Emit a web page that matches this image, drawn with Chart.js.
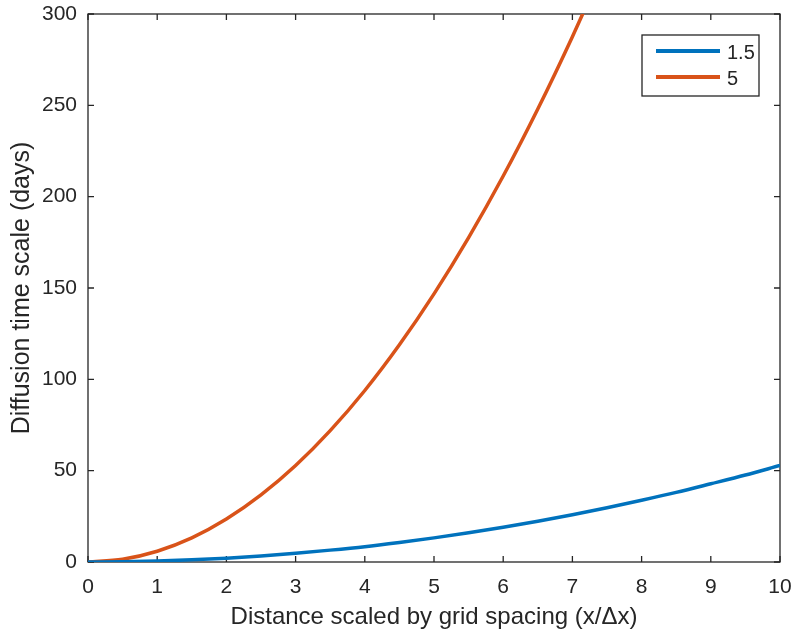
<!DOCTYPE html>
<html>
<head>
<meta charset="utf-8">
<script src="https://cdn.jsdelivr.net/npm/chart.js@4/dist/chart.umd.min.js"></script>
<style>
body { margin: 0; background: #fff; }
#wrap { width: 793px; height: 632px; }
</style>
</head>
<body>
<div id="wrap"><canvas id="diffChart"></canvas></div>
<script>
// Distance scaled by grid spacing (x/dx)
const distance = [0, 0.5, 1, 1.5, 2, 2.5, 3, 3.5, 4, 4.5, 5, 5.5, 6, 6.5, 7, 7.5, 8, 8.5, 9, 9.5, 10];

// diffusion time scale (days)
const time15 = [0, 0.13, 0.53, 1.2, 2.1, 3.3, 4.8, 6.5, 8.4, 10.7, 13.2, 16, 19, 22.3, 25.9, 29.7, 33.8, 38.1, 42.8, 47.6, 52.8];
const time5 = [0, 1.5, 5.9, 13.2, 23.5, 36.7, 52.8, 71.9, 93.9, 118.9, 146.8, 177.6, 211.3, 248, 287.6, 330];

const seriesNames = ['1.5', '5'];
const seriesColors = ['#0072BD', '#D95319'];

const xTicks = [0, 1, 2, 3, 4, 5, 6, 7, 8, 9, 10];
const yTicks = [0, 50, 100, 150, 200, 250, 300];

const FONT = "'Liberation Sans', Arial, Helvetica, sans-serif";
const INK = '#262626';

function toPoints(vals) {
    return vals.map((v, i) => ({ x: distance[i], y: v }));
}

// MATLAB style box with inward ticks
const boxPlugin = {
    id: 'box',
    beforeDatasetsDraw(chart) {
        const { ctx, chartArea: a, scales } = chart;
        ctx.save();
        ctx.strokeStyle = INK;
        ctx.lineWidth = 1.3;
        ctx.strokeRect(a.left, a.top, a.right - a.left, a.bottom - a.top);
        const len = 6;
        ctx.beginPath();
        xTicks.forEach(t => {
            const px = scales.x.getPixelForValue(t);
            ctx.moveTo(px, a.bottom); ctx.lineTo(px, a.bottom - len);
            ctx.moveTo(px, a.top); ctx.lineTo(px, a.top + len);
        });
        yTicks.forEach(t => {
            const py = scales.y.getPixelForValue(t);
            ctx.moveTo(a.left, py); ctx.lineTo(a.left + len, py);
            ctx.moveTo(a.right, py); ctx.lineTo(a.right - len, py);
        });
        ctx.stroke();
        ctx.restore();
    },
    afterDraw(chart) {
        // legend box in the top right corner
        const { ctx, chartArea: a } = chart;
        const bx = a.right - 138, by = a.top + 21, bw = 117, bh = 61;
        ctx.save();
        ctx.fillStyle = '#fff';
        ctx.fillRect(bx, by, bw, bh);
        ctx.strokeStyle = INK;
        ctx.lineWidth = 1.3;
        ctx.strokeRect(bx, by, bw, bh);
        chart.data.datasets.forEach((ds, i) => {
            const y = by + 16 + i * 26;
            ctx.strokeStyle = ds.borderColor;
            ctx.lineWidth = 4;
            ctx.beginPath();
            ctx.moveTo(bx + 14, y);
            ctx.lineTo(bx + 78, y);
            ctx.stroke();
            ctx.fillStyle = INK;
            ctx.font = '20px ' + FONT;
            ctx.textBaseline = 'middle';
            ctx.fillText(ds.label, bx + 85, y + 2);
        });
        ctx.restore();
    }
};

new Chart(document.getElementById('diffChart').getContext('2d'), {
    type: 'line',
    data: {
        datasets: [{
            label: seriesNames[0],
            data: toPoints(time15),
            borderColor: seriesColors[0],
            borderWidth: 3.5,
            pointRadius: 0,
            cubicInterpolationMode: 'monotone'
        }, {
            label: seriesNames[1],
            data: toPoints(time5),
            borderColor: seriesColors[1],
            borderWidth: 3.5,
            pointRadius: 0,
            cubicInterpolationMode: 'monotone'
        }]
    },
    plugins: [boxPlugin],
    options: {
        responsive: true,
        maintainAspectRatio: false,
        animation: false,
        layout: { padding: { top: 14, right: 13, left: 0, bottom: 0 } },
        plugins: {
            legend: { display: false },
            tooltip: { enabled: false }
        },
        scales: {
            x: {
                type: 'linear',
                min: 0,
                max: 10,
                afterFit(s) { s.height = 70; s.paddingLeft = 0; s.paddingRight = 0; },
                afterBuildTicks(s) { s.ticks = xTicks.map(v => ({ value: v })); },
                grid: { display: false, drawTicks: false },
                border: { display: false },
                ticks: { color: INK, font: { family: FONT, size: 21 }, padding: 13, maxRotation: 0 },
                title: {
                    display: true,
                    text: 'Distance scaled by grid spacing (x/\u0394x)',
                    color: INK,
                    font: { family: FONT, size: 24 },
                    padding: { top: 0, bottom: 0 }
                }
            },
            y: {
                min: 0,
                max: 300,
                afterFit(s) { s.width = 88; s.paddingTop = 0; s.paddingBottom = 0; },
                afterBuildTicks(s) { s.ticks = yTicks.map(v => ({ value: v })); },
                grid: { display: false, drawTicks: false },
                border: { display: false },
                ticks: { color: INK, font: { family: FONT, size: 21 }, padding: 11 },
                title: {
                    display: true,
                    text: 'Diffusion time scale (days)',
                    color: INK,
                    font: { family: FONT, size: 25 },
                    padding: { top: 7, bottom: 0 }
                }
            }
        }
    }
});
</script>
</body>
</html>
